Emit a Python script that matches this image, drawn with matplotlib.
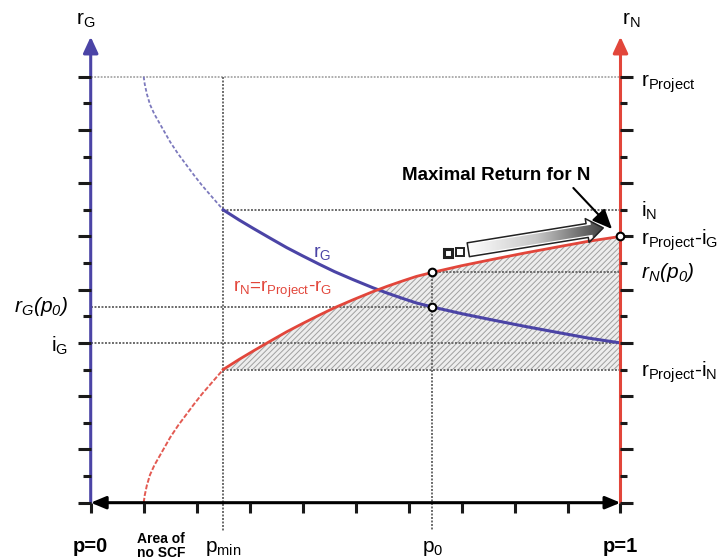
import numpy as np
import matplotlib
matplotlib.use('Agg')
import matplotlib.pyplot as plt
from matplotlib.patches import FancyArrowPatch
from matplotlib.colors import LinearSegmentedColormap

plt.rcParams['font.family'] = ['Liberation Sans', 'DejaVu Sans']
plt.rcParams['mathtext.fontset'] = 'custom'
plt.rcParams['mathtext.default'] = 'regular'
plt.rcParams['hatch.linewidth'] = 0.7

# levels on the return axes (one tick = one unit)
r_project = 16.0
i_n = 11.0
i_g = 6.0
p_min = 0.25
p0 = 0.645
rg_p0 = 7.35
rn_p0 = r_project - rg_p0

# r_G curve, r_N = r_Project - r_G
p = np.array([0.100, 0.102, 0.106, 0.112, 0.120, 0.130, 0.140, 0.150, 0.165, 0.180,
              0.195, 0.210, 0.230, 0.250, 0.280, 0.307, 0.340, 0.370, 0.400, 0.432,
              0.460, 0.495, 0.533, 0.560, 0.589, 0.615, 0.645, 0.700, 0.759, 0.820,
              0.885, 0.940, 1.000])
r_g = np.array([16.0, 15.72, 15.35, 14.95, 14.6, 14.25, 13.9, 13.55, 13.1, 12.7,
                12.3, 11.92, 11.46, 11.0, 10.62, 10.3, 9.92, 9.58, 9.27, 8.95,
                8.68, 8.38, 8.07, 7.87, 7.67, 7.5, 7.35, 7.1, 6.86, 6.62,
                6.38, 6.18, 6.0])
r_n = r_project - r_g

levels = list(range(17))
p_ticks = [0.0, 0.1, 0.2, 0.3, 0.4, 0.5, 0.6, 0.7, 0.8, 0.9, 1.0]

blue = '#4b44a6'
red = '#e2463b'
tick_c = '#1a1a1a'

fig = plt.figure(figsize=(7.21, 5.59), dpi=100)
ax = fig.add_axes([0, 0, 1, 1])
ax.axis('off')

# dotted guide lines
dot = dict(color='#6a6a6a', lw=1.4, ls=(0, (1, 0.8)), zorder=2)
ax.plot([0, 1], [r_project, r_project], color='#a8a8a8', lw=1.3, ls=(0, (1, 0.8)), zorder=2)
ax.plot([p_min, 1], [i_n, i_n], **dot)
ax.plot([0, p0], [rg_p0, rg_p0], **dot)
ax.plot([0, 1], [i_g, i_g], **dot)
ax.plot([p_min, 1], [r_project - i_n, r_project - i_n], **dot)
ax.plot([p0, 1], [rn_p0, rn_p0], **dot)
ax.plot([p_min, p_min], [r_project, -1.05], **dot)
ax.plot([p0, p0], [rn_p0, -1.05], **dot)

# hatched area between r_Project-i_N and r_N
hi = p >= p_min
lo = p <= p_min
ax.fill_between(p[hi], r_project - i_n, r_n[hi], facecolor='#ededed', edgecolor='#a0a0a0',
                hatch='//////', lw=0, zorder=1)

# curves
ax.plot(p[lo], r_g[lo], color='#7c79bd', lw=1.3, ls=(0, (2, 1.2)), zorder=3)
ax.plot(p[hi], r_g[hi], color=blue, lw=2.2, zorder=3)
ax.plot(p[lo], r_n[lo], color='#e35a52', lw=1.4, ls=(0, (2.5, 1)), zorder=3)
ax.plot(p[hi], r_n[hi], color=red, lw=2, zorder=3)

# axes with arrows
ax.annotate('', xy=(0, 17.5), xytext=(0, 0),
            arrowprops=dict(arrowstyle='-|>,head_length=0.65,head_width=0.3', color=blue, lw=2.2,
                            shrinkA=0, shrinkB=0, mutation_scale=15), zorder=4)
ax.annotate('', xy=(1, 17.5), xytext=(1, 0),
            arrowprops=dict(arrowstyle='-|>,head_length=0.65,head_width=0.3', color=red, lw=2.2,
                            shrinkA=0, shrinkB=0, mutation_scale=15), zorder=4)
ax.annotate('', xy=(1, 0), xytext=(0, 0),
            arrowprops=dict(arrowstyle='<|-|>,head_length=0.6,head_width=0.25', color='black', lw=2.2,
                            shrinkA=0, shrinkB=0, mutation_scale=15), zorder=4)

# ticks
for lv in levels:
    ll = 0.0245 if lv % 2 == 0 else 0.015
    lr = 0.023 if lv % 2 == 0 else 0.012
    ax.plot([-ll, 0], [lv, lv], color=tick_c, lw=2.2, solid_capstyle='butt', zorder=4)
    ax.plot([1, 1 + lr], [lv, lv], color=tick_c, lw=2.2, solid_capstyle='butt', zorder=4)
ax.vlines(p_ticks, -0.39, 0, color=tick_c, lw=2.2, zorder=4)

# points
ax.plot([p0, p0, 1], [rn_p0, rg_p0, r_n[-1]], 'o', ms=5.5, mfc='white', mec='black', mew=1.5, zorder=6)

# annotation arrows
ax.annotate('', xy=(0.984, 10.28), xytext=(0.911, 11.82),
            arrowprops=dict(arrowstyle='-|>,head_length=0.8,head_width=0.35', color='black', lw=1.5,
                            mutation_scale=15, shrinkA=0, shrinkB=0), zorder=6)
arr = FancyArrowPatch((0.7127, 9.5), (0.9675, 10.32),
                      arrowstyle='simple,head_length=0.42,head_width=0.62,tail_width=0.36',
                      mutation_scale=28, shrinkA=0, shrinkB=0, fc='none', ec='#222222', lw=1.1, zorder=5)
ax.add_patch(arr)
grad = np.linspace(0, 1, 256).reshape(1, -1)
cmap = LinearSegmentedColormap.from_list('g', ['#ffffff', '#c8c8c8', '#3f3f3f'])
im = ax.imshow(grad, extent=(0.71, 0.97, 8.8, 11.0), cmap=cmap, aspect='auto', zorder=4.9)
im.set_clip_path(arr)
ax.plot([0.675], [9.375], 's', ms=5.5, mfc='white', mec='#222222', mew=2.2, zorder=6)
ax.plot([0.697], [9.41], 's', ms=5.5, mfc='white', mec='#222222', mew=1.4, zorder=6)

# labels
fs = 15
xr = 1.0387
ax.text(xr, 15.63, 'r$_{Project}$', fontsize=fs, va='baseline')
ax.text(xr, 10.75, 'i$_N$', fontsize=fs, va='baseline')
ax.text(xr, 9.69, 'r$_{Project}$-i$_G$', fontsize=fs, va='baseline')
ax.text(xr, rn_p0, 'r$_N$(p$_0$)', fontsize=fs, va='center', style='italic')
ax.text(xr, 4.72, 'r$_{Project}$-i$_N$', fontsize=fs, va='baseline')
ax.text(-0.043, rg_p0, 'r$_G$(p$_0$)', fontsize=fs, ha='right', va='center', style='italic')
ax.text(-0.043, 5.67, 'i$_G$', fontsize=fs, ha='right', va='baseline')
ax.text(-0.009, 18.1, 'r$_G$', fontsize=fs, ha='center', va='center')
ax.text(1.02, 18.1, 'r$_N$', fontsize=fs, ha='center', va='center')

ax.text(0, -1.85, 'p=0', fontsize=14.5, fontweight='bold', ha='center', va='baseline')
ax.text(1, -1.85, 'p=1', fontsize=14.5, fontweight='bold', ha='center', va='baseline')
ax.text(0.133, -1.61, 'Area of\nno SCF', fontsize=10, fontweight='bold', ha='center', va='center',
        linespacing=1.0)
ax.text(p_min, -1.85, 'p$_{min}$', fontsize=fs, ha='center', va='baseline')
ax.text(p0, -1.85, 'p$_0$', fontsize=fs, ha='center', va='baseline')

ax.text(0.766, 12.28, 'Maximal Return for N', fontsize=13.5, fontweight='bold', ha='center', va='center')
ax.text(0.4366, 9.39, 'r$_G$', fontsize=14, color=blue, ha='center', va='center')
ax.text(0.362, 8.0, 'r$_N$=r$_{Project}$-r$_G$', fontsize=13.5, color=red, ha='center', va='center')

ax.set_xlim(-0.1712, 1.1897)
ax.set_ylim(-2.115, 18.88)

fig.savefig('out.png', dpi=100)
